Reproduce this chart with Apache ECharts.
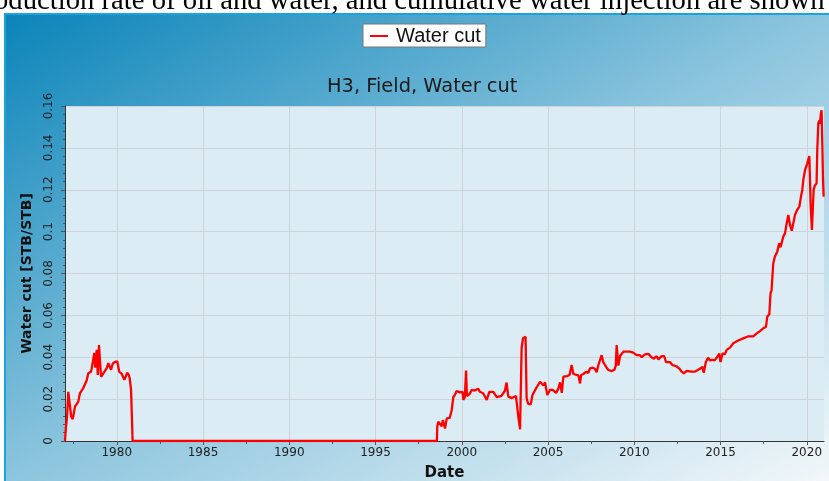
<!DOCTYPE html>
<html>
<head>
<meta charset="utf-8">
<script src="https://cdn.jsdelivr.net/npm/echarts@6.0.0/dist/echarts.min.js"></script>
<style>
    html, body { margin: 0; padding: 0; background: #fff; }
    #chart { width: 829px; height: 481px; }
</style>
</head>
<body>
<div id="chart"></div>
<script>
// decimal years
var years = [
    1977.00, 1977.05, 1977.12, 1977.19, 1977.27, 1977.36, 1977.45, 1977.58, 1977.77, 1977.87,
    1978.06, 1978.26, 1978.35, 1978.50, 1978.55, 1978.64, 1978.70, 1978.75, 1978.84, 1978.90,
    1978.97, 1979.03, 1979.09, 1979.20, 1979.42, 1979.51, 1979.60, 1979.67, 1979.77, 1979.90,
    1979.96, 1980.03, 1980.15, 1980.28, 1980.38, 1980.44, 1980.50, 1980.61, 1980.70, 1980.75,
    1980.83, 1980.90, 1980.92,
    1998.56, 1998.58, 1998.64, 1998.70, 1998.84, 1998.90, 1999.03, 1999.13, 1999.30, 1999.42,
    1999.51, 1999.60, 1999.70, 1999.90, 2000.05, 2000.09, 2000.18, 2000.25, 2000.30, 2000.45,
    2000.58, 2000.75, 2000.95, 2001.05, 2001.24, 2001.45, 2001.60, 2001.83, 2002.03, 2002.30,
    2002.50, 2002.60, 2002.70, 2002.90, 2003.14, 2003.28, 2003.38, 2003.45, 2003.47, 2003.55,
    2003.70, 2003.76, 2003.85, 2004.00, 2004.10, 2004.33, 2004.54, 2004.64, 2004.74, 2004.83,
    2004.96, 2005.12, 2005.27, 2005.47, 2005.60, 2005.70, 2005.80, 2005.89, 2006.10, 2006.25,
    2006.37, 2006.47, 2006.57, 2006.76, 2006.86, 2006.92, 2007.05, 2007.20, 2007.34, 2007.43,
    2007.59, 2007.72, 2007.82, 2007.92, 2008.00, 2008.11, 2008.20, 2008.30, 2008.40, 2008.50,
    2008.70, 2008.85, 2008.93, 2008.98, 2009.08, 2009.18, 2009.37, 2009.75, 2009.94, 2010.14,
    2010.33, 2010.43, 2010.62, 2010.82, 2011.00, 2011.14, 2011.30, 2011.40, 2011.59, 2011.74,
    2011.84, 2012.07, 2012.22, 2012.45, 2012.61, 2012.75, 2012.88, 2013.04, 2013.14, 2013.30,
    2013.37, 2013.50, 2013.66, 2013.83, 2013.95, 2014.03, 2014.15, 2014.28, 2014.38, 2014.53,
    2014.66, 2014.80, 2014.93, 2015.00, 2015.12, 2015.26, 2015.36, 2015.55, 2015.74, 2016.03,
    2016.32, 2016.61, 2016.90, 2017.10, 2017.29, 2017.48, 2017.64, 2017.71, 2017.83, 2017.90,
    2017.96, 2018.06, 2018.15, 2018.29, 2018.40, 2018.48, 2018.59, 2018.64, 2018.74, 2018.84,
    2018.93, 2019.03, 2019.13, 2019.22, 2019.32, 2019.42, 2019.57, 2019.65, 2019.74, 2019.80,
    2019.90, 2020.03, 2020.15, 2020.18, 2020.23, 2020.30, 2020.38, 2020.40, 2020.47, 2020.57,
    2020.61, 2020.67, 2020.72, 2020.76, 2020.82, 2020.86, 2020.91, 2020.94, 2020.98
];
// water cut [STB/STB]
var waterCut = [
    0, 0.0060, 0.0116, 0.0235, 0.0240, 0.0116, 0.0105, 0.0164, 0.0188, 0.0229,
    0.0253, 0.0290, 0.0324, 0.0330, 0.0348, 0.0340, 0.0420, 0.0350, 0.0435, 0.0315,
    0.0458, 0.0467, 0.0307, 0.0320, 0.0348, 0.0372, 0.0375, 0.0340, 0.0370, 0.0378,
    0.0387, 0.0380, 0.0330, 0.0322, 0.0315, 0.0292, 0.0290, 0.0326, 0.0315, 0.0300,
    0.0244, 0.0242, 0,
    0, 0.0068, 0.0092, 0.0092, 0.0070, 0.0100, 0.0060, 0.0108, 0.0110, 0.0148,
    0.0209, 0.0220, 0.0239, 0.0232, 0.0235, 0.0196, 0.0210, 0.0336, 0.0215, 0.0224,
    0.0244, 0.0241, 0.0250, 0.0235, 0.0228, 0.0196, 0.0235, 0.0235, 0.0210, 0.0215,
    0.0240, 0.0279, 0.0212, 0.0205, 0.0215, 0.0116, 0.0056, 0.0053, 0.0443, 0.0490,
    0.0498, 0.0205, 0.0177, 0.0175, 0.0220, 0.0255, 0.0283, 0.0290, 0.0265, 0.0280,
    0.0220, 0.0244, 0.0244, 0.0230, 0.0250, 0.0280, 0.0230, 0.0307, 0.0310, 0.0315,
    0.0363, 0.0320, 0.0315, 0.0313, 0.0275, 0.0315, 0.0320, 0.0330, 0.0325, 0.0347,
    0.0350, 0.0345, 0.0328, 0.0363, 0.0370, 0.0410, 0.0378, 0.0378, 0.0350, 0.0339,
    0.0334, 0.0340, 0.0360, 0.0458, 0.0360, 0.0406, 0.0427, 0.0427, 0.0422, 0.0410,
    0.0410, 0.0400, 0.0414, 0.0416, 0.0400, 0.0393, 0.0405, 0.0390, 0.0405, 0.0405,
    0.0377, 0.0377, 0.0362, 0.0357, 0.0346, 0.0331, 0.0323, 0.0335, 0.0340, 0.0331,
    0.0323, 0.0331, 0.0338, 0.0346, 0.0354, 0.0326, 0.0377, 0.0398, 0.0385, 0.0388,
    0.0385, 0.0400, 0.0418, 0.0377, 0.0418, 0.0415, 0.0435, 0.0446, 0.0467, 0.0480,
    0.0490, 0.0500, 0.0500, 0.0514, 0.0525, 0.0538, 0.0546, 0.0594, 0.0605, 0.0705,
    0.0720, 0.0849, 0.0880, 0.0904, 0.0944, 0.0925, 0.0925, 0.0976, 0.0992, 0.1040,
    0.1080, 0.1032, 0.1004, 0.1006, 0.1080, 0.1100, 0.1119, 0.1159, 0.1199, 0.1246,
    0.1294, 0.1326, 0.1361, 0.1355, 0.1119, 0.1008, 0.1008, 0.1200, 0.1220, 0.1230,
    0.1390, 0.1517, 0.1530, 0.1515, 0.1565, 0.1580, 0.1390, 0.1254, 0.1167
];
var yearLabels = [1980, 1985, 1990, 1995, 2000, 2005, 2010, 2015, 2020];
var halfYearTicks = [1977.5, 1982.5, 1987.5, 1992.5, 1997.5, 2002.5, 2007.5, 2012.5, 2017.5];

var seriesData = [];
for (var i = 0; i < years.length; i++) {
    seriesData.push([years[i], waterCut[i]]);
}

var myChart = echarts.init(document.getElementById('chart'));
var tickFont = 'DejaVu Sans';

var option = {
    animation: false,
    textStyle: { fontFamily: tickFont },
    graphic: [
        {
            type: 'text',
            left: -6,
            top: -13,
            z: 1,
            style: {
                text: 'oduction rate of oil and water, and cumulative water injection are shown',
                font: '28.7px "Liberation Serif"',
                fill: '#000'
            }
        },
        {
            type: 'rect',
            z: -10,
            shape: { x: 5, y: 14, width: 830, height: 480 },
            style: {
                fill: new echarts.graphic.LinearGradient(5, 14, 406, 721, [
                    { offset: 0, color: '#0a84b9' },
                    { offset: 0.5, color: '#8cc5de' },
                    { offset: 1, color: '#f2f7fa' }
                ], true),
                stroke: '#1ba3de',
                lineWidth: 2
            }
        }
    ],
    title: {
        text: 'H3, Field, Water cut',
        left: 322,
        top: 72,
        textStyle: {
            fontFamily: tickFont,
            fontSize: 19.4,
            fontWeight: 'normal',
            color: '#1a1a1a'
        }
    },
    legend: {
        left: 363,
        top: 24,
        padding: [2, 5, 1, 7],
        itemWidth: 18,
        itemHeight: 2,
        itemGap: 4,
        backgroundColor: '#fff',
        borderColor: '#777',
        borderWidth: 1,
        borderRadius: 0,
        icon: 'rect',
        textStyle: {
            fontFamily: 'Liberation Sans',
            fontSize: 20,
            color: '#111',
            padding: [0, 0, 0, 3]
        },
        data: ['Water cut']
    },
    grid: {
        left: 65,
        right: 5,
        top: 106,
        bottom: 40,
        outerBoundsMode: 'none',
        show: true,
        backgroundColor: '#dbecf4',
        borderWidth: 0
    },
    xAxis: [
        {
            type: 'value',
            min: 1977,
            max: 2021,
            name: 'Date',
            nameLocation: 'middle',
            nameGap: 25,
            nameTextStyle: {
                fontFamily: tickFont,
                fontSize: 15,
                fontWeight: 'bold',
                color: '#111'
            },
            axisLine: { show: true, lineStyle: { color: '#333', width: 1 } },
            axisTick: { show: true, customValues: yearLabels, length: 4, lineStyle: { color: '#555' } },
            axisLabel: {
                customValues: yearLabels,
                formatter: function (v) { return String(v); },
                margin: 6,
                fontFamily: tickFont,
                fontSize: 12,
                color: '#222'
            },
            splitLine: { show: true, lineStyle: { color: '#cdd4d8', width: 1 } }
        },
        {
            type: 'value',
            min: 1977,
            max: 2021,
            position: 'bottom',
            axisLine: { show: false },
            axisTick: { show: true, customValues: halfYearTicks, length: 3, lineStyle: { color: '#555' } },
            axisLabel: { show: false },
            splitLine: { show: false }
        }
    ],
    yAxis: {
        type: 'value',
        min: 0,
        max: 0.16,
        interval: 0.02,
        name: 'Water cut [STB/STB]',
        nameLocation: 'middle',
        nameGap: 31,
        nameTextStyle: {
            fontFamily: tickFont,
            fontSize: 14,
            fontWeight: 'bold',
            color: '#111'
        },
        axisLine: { show: true, lineStyle: { color: '#333', width: 1 } },
        axisTick: { show: true, length: 4, lineStyle: { color: '#555' } },
        minorTick: { show: true, splitNumber: 5, length: 2, lineStyle: { color: '#555' } },
        axisLabel: {
            rotate: 90,
            margin: 10,
            fontFamily: tickFont,
            fontSize: 12,
            color: '#222'
        },
        splitLine: { show: true, lineStyle: { color: '#cdd4d8', width: 1 } }
    },
    series: [
        {
            name: 'Water cut',
            type: 'line',
            xAxisIndex: 0,
            showSymbol: false,
            clip: true,
            lineStyle: { color: '#ff0000', width: 2.3 },
            itemStyle: { color: '#ff0000' },
            data: seriesData
        }
    ]
};
myChart.setOption(option);
</script>
</body>
</html>
